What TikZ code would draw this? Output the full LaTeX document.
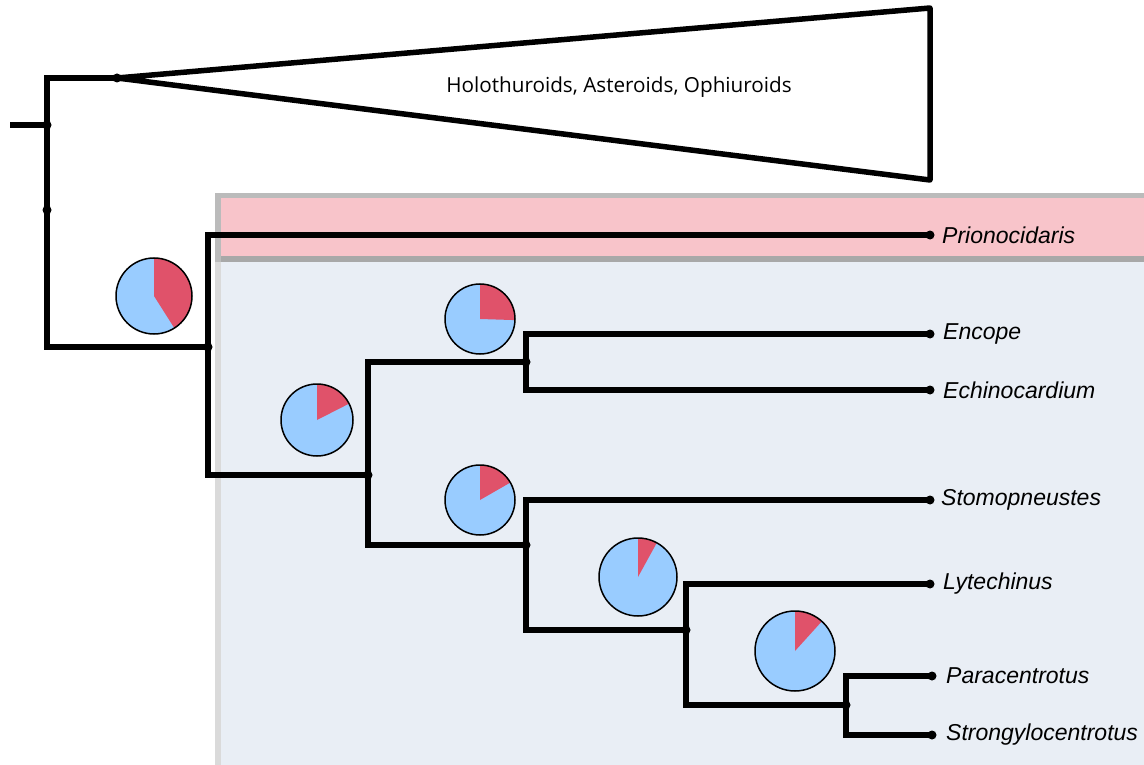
\documentclass[tikz,border=0pt]{standalone}
\usepackage{fontspec}
\newfontfamily\labfont{Liberation Sans}
\newfontfamily\trifont{Open Sans}
\definecolor{pieblue}{HTML}{99CCFF}
\definecolor{piered}{HTML}{E0526A}
\definecolor{bandpink}{HTML}{F8C4CA}
\definecolor{panelblue}{HTML}{E9EEF5}
\definecolor{framegray}{HTML}{BBBBBB}
\definecolor{sepgray}{HTML}{A8A8A8}
\definecolor{leftgray}{HTML}{DADADA}
\tikzset{
  branch/.style={line width=5.7pt, line join=miter, black},
  dotnode/.style={circle, fill=black, inner sep=0pt, minimum size=9pt},
  leaf/.style={anchor=west, inner sep=0pt, font=\labfont\itshape\fontsize{23}{27}\selectfont},
}
\newcommand{\mypie}[4]{% x, y, r, fraction
  \fill[pieblue] (#1,#2) circle[radius=#3];
  \fill[piered] (#1,#2) -- ++(-90:#3) arc[start angle=-90, end angle={-90+360*#4}, radius=#3] -- cycle;
  \draw[line width=1.5pt] (#1,#2) circle[radius=#3];
}
\begin{document}
\begin{tikzpicture}[x=1pt,y=-1pt]
\useasboundingbox (0,0) rectangle (1144,765);
\begin{scope}
\clip (0,0) rectangle (1144,765);
% panels
\fill[framegray] (215,193) rectangle (1160,780);
\fill[bandpink] (221,198) rectangle (1160,256);
\fill[sepgray] (221,256) rectangle (1160,262);
\fill[leftgray] (215,262) rectangle (221,780);
\fill[panelblue] (221,262) rectangle (1160,780);
\end{scope}
% collapsed clade
\coordinate (apex) at (117,78);
\coordinate (tr) at (930,8);
\coordinate (br) at (930,180);
\draw[line width=5.5pt, line join=round] (apex) -- (tr) -- (br) -- cycle;
\node[font=\trifont\fontsize{20.7}{24}\selectfont] (clade) at (619,87) {Holothuroids, Asteroids, Ophiuroids};
% internal nodes
\coordinate (stub) at (10,125);
\coordinate (r0) at (47,125);
\coordinate (rmid) at (47,210);
\coordinate (n1) at (208,347);
\coordinate (n2) at (368,475);
\coordinate (n3) at (526,362);
\coordinate (n4) at (526,545);
\coordinate (n5) at (686,630);
\coordinate (n6) at (846,705);
% leaf ends
\coordinate (lP) at (930,235);
\coordinate (lE) at (930,334);
\coordinate (lEc) at (930,390);
\coordinate (lS) at (930,500);
\coordinate (lL) at (930,584);
\coordinate (lPa) at (932,676);
\coordinate (lSt) at (932,735);
% branches
\draw[branch] (stub) -- (r0);
\draw[branch] (r0) |- (apex);
\draw[branch] (r0) |- (n1);
\draw[branch] (n1) |- (lP);
\draw[branch] (n1) |- (n2);
\draw[branch] (n2) |- (n3);
\draw[branch] (n2) |- (n4);
\draw[branch] (n3) |- (lE);
\draw[branch] (n3) |- (lEc);
\draw[branch] (n4) |- (lS);
\draw[branch] (n4) |- (n5);
\draw[branch] (n5) |- (lL);
\draw[branch] (n5) |- (n6);
\draw[branch] (n6) |- (lPa);
\draw[branch] (n6) |- (lSt);
% dots
\foreach \c in {apex,r0,rmid,n1,n2,n3,n4,n5,n6,lP,lE,lEc,lS,lL,lPa,lSt}
  \node[dotnode] at (\c) {};
% leaf labels
\node[leaf] (tP) at (942,235) {Prionocidaris};
\node[leaf] (tE) at (943,334) {Encope};
\node[leaf] (tEc) at (943,390) {Echinocardium};
\node[leaf] (tS) at (941,500) {Stomopneustes};
\node[leaf] (tL) at (943,584) {Lytechinus};
\node[leaf] (tPa) at (946,676) {Paracentrotus};
\node[leaf] (tSt) at (946,735) {Strongylocentrotus};
% pies
\mypie{154}{296}{38}{0.41}
\mypie{317}{420}{36}{0.175}
\mypie{480}{319}{35}{0.255}
\mypie{480}{500}{35}{0.167}
\mypie{638}{577}{39}{0.08}
\mypie{795}{651}{40}{0.117}
\end{tikzpicture}
\end{document}
